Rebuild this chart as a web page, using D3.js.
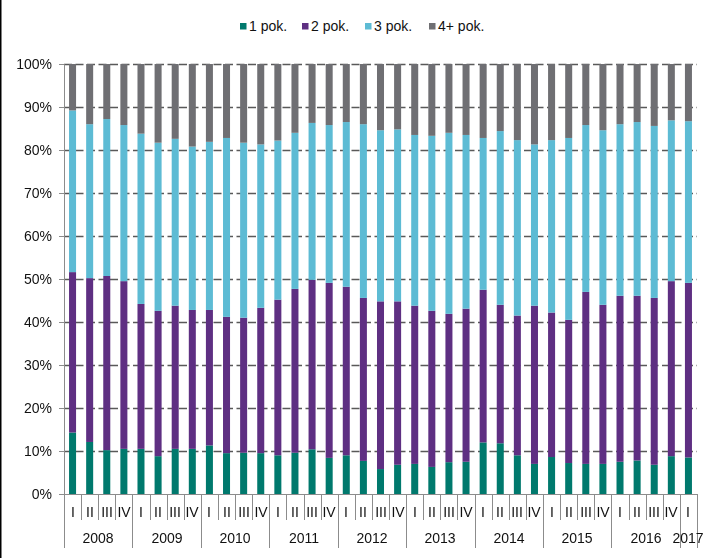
<!DOCTYPE html>
<html>
<head>
<meta charset="utf-8">
<script src="https://cdn.jsdelivr.net/npm/d3@7"></script>
<style>
  html, body { margin: 0; padding: 0; background: #fff; }
  svg { display: block; font-family: Arial, "Liberation Sans", sans-serif; }
  .lbl { opacity: 0.999; }
</style>
</head>
<body>
<svg id="chart" width="720" height="558"></svg>
<script>
// ---- data ----
const years = ["2008","2009","2010","2011","2012","2013","2014","2015","2016","2017"];
const quarters = ["I","II","III","IV"];
const seriesNames = ["1 pok.", "2 pok.", "3 pok.", "4+ pok."];
const seriesColors = ["#00796D", "#5E2F82", "#5DBBD4", "#6F6F73"];

const pok1 = [14.3,12.1,10.2,10.5, 10.5,8.8,10.5,10.5, 11.3,9.5,9.6,9.5, 9.0,9.6,10.4,8.4,
              9.0,7.7,5.8,6.8, 7.0,6.3,7.4,7.5, 12.0,11.8,9.0,7.0, 8.6,7.2,7.0,7.0,
              7.5,7.8,6.8,8.8, 8.5];
const pok2 = [37.3,38.1,40.5,39.0, 33.7,33.8,33.3,32.3, 31.5,31.7,31.4,33.8, 36.2,38.1,39.4,40.7,
              39.2,37.9,39.0,38.0, 36.8,36.3,34.5,35.6, 35.5,32.2,32.5,36.8, 33.6,33.3,40.0,37.0,
              38.6,38.3,38.8,40.7, 40.6];
const pok3 = [37.6,35.8,36.5,36.3, 39.6,39.1,38.8,38.0, 39.1,41.6,40.7,38.0, 37.0,36.3,36.5,36.7,
              38.3,40.4,39.8,40.0, 39.7,40.7,42.1,40.4, 35.3,40.4,40.8,37.5, 40.1,42.3,38.8,40.6,
              39.9,40.4,40.0,37.4, 37.6];
const pok4 = [10.8,14.0,12.8,14.2, 16.2,18.3,17.4,19.2, 18.1,17.2,18.3,18.7, 17.8,16.0,13.7,14.2,
              13.5,14.0,15.4,15.2, 16.5,16.7,16.0,16.5, 17.2,15.6,17.7,18.7, 17.7,17.2,14.2,15.4,
              14.0,13.5,14.4,13.1, 13.3];
const yTicks = [0,0.1,0.2,0.3,0.4,0.5,0.6,0.7,0.8,0.9,1.0];

// build rows
const rows = pok1.map((v, i) => ({
  idx: i,
  year: years[Math.floor(i / 4)],
  q: quarters[i % 4],
  "1 pok.": v, "2 pok.": pok2[i], "3 pok.": pok3[i], "4+ pok.": pok4[i]
}));

const svg = d3.select("#chart");
const mLeft = 64, mRight = 697, mTop = 64, mBottom = 494;

const x = d3.scaleBand().domain(rows.map(d => d.idx)).range([mLeft, mRight])
  .paddingInner(0.59).paddingOuter(0.295);
const y = d3.scaleLinear().domain([0, 1]).range([mBottom, mTop]);
const color = d3.scaleOrdinal().domain(seriesNames).range(seriesColors);

const stack = d3.stack().keys(seriesNames).offset(d3.stackOffsetExpand);
const stacked = stack(rows);

// border on left
svg.append("line").attr("x1", 0.75).attr("x2", 0.75).attr("y1", 0).attr("y2", 558)
  .attr("stroke", "#000").attr("stroke-width", 1.5);

// gridlines
svg.append("g").selectAll("line").data(yTicks.filter(t => t > 0)).join("line")
  .attr("x1", mLeft).attr("x2", mRight)
  .attr("y1", d => Math.round(y(d)) + 0.5).attr("y2", d => Math.round(y(d)) + 0.5)
  .attr("stroke", "#595959").attr("stroke-width", 1.6)
  .attr("stroke-dasharray", "8,3.5");

// bars
svg.append("g").selectAll("g").data(stacked).join("g")
  .attr("fill", d => color(d.key))
  .selectAll("rect").data(d => d).join("rect")
  .attr("x", d => x(d.data.idx))
  .attr("width", x.bandwidth())
  .attr("y", d => y(d[1]))
  .attr("height", d => y(d[0]) - y(d[1]));

// y axis
const yAxis = d3.axisLeft(y).tickValues(yTicks).tickFormat(d3.format(".0%")).tickSize(5).tickPadding(7);
const gy = svg.append("g").attr("class", "lbl").attr("transform", `translate(${mLeft},0)`).call(yAxis);
gy.select(".domain").attr("stroke", "#8c8c8c");
gy.selectAll(".tick line").attr("stroke", "#8c8c8c");
gy.selectAll(".tick text").attr("font-size", 14).attr("fill", "#111")
  .attr("font-family", "Arial, 'Liberation Sans', sans-serif");

// x axis baseline
svg.append("line").attr("x1", mLeft - 5).attr("x2", mRight).attr("y1", mBottom + 0.5).attr("y2", mBottom + 0.5)
  .attr("stroke", "#8c8c8c").attr("stroke-width", 1);

// quarter separators and labels
const step = x.step();
const boundaries = d3.range(rows.length + 1).map(i => mLeft + i * step);
svg.append("g").selectAll("line").data(boundaries).join("line")
  .attr("x1", d => Math.round(d) + 0.5).attr("x2", d => Math.round(d) + 0.5)
  .attr("y1", mBottom)
  .attr("y2", (d, i) => (i % 4 === 0 || i === rows.length) ? 548 : 520)
  .attr("stroke", "#8c8c8c").attr("stroke-width", 1);

svg.append("g").attr("class", "lbl").selectAll("text").data(rows).join("text")
  .attr("x", d => Math.round(x(d.idx) + x.bandwidth() / 2))
  .attr("y", 517)
  .attr("text-anchor", "middle")
  .attr("font-size", 14).attr("fill", "#111")
  .text(d => d.q);

// year labels
const yearGroups = d3.groups(rows, d => d.year);
svg.append("g").attr("class", "lbl").selectAll("text").data(yearGroups).join("text")
  .attr("x", d => {
    const first = d[1][0].idx, last = d[1][d[1].length - 1].idx;
    return Math.round((mLeft + first * step + mLeft + (last + 1) * step) / 2);
  })
  .attr("y", 543)
  .attr("text-anchor", "middle")
  .attr("font-size", 14).attr("fill", "#111")
  .text(d => d[0]);

// legend
const legendX = [240, 302, 365, 429];
const lg = svg.append("g").attr("class", "lbl").selectAll("g").data(seriesNames).join("g")
  .attr("transform", (d, i) => `translate(${legendX[i]},0)`);
lg.append("rect").attr("x", 0).attr("y", 23).attr("width", 6.5).attr("height", 6.5)
  .attr("fill", d => color(d));
lg.append("text").attr("x", 9).attr("y", 31).attr("font-size", 14).attr("fill", "#111")
  .text(d => d);
</script>
</body>
</html>
